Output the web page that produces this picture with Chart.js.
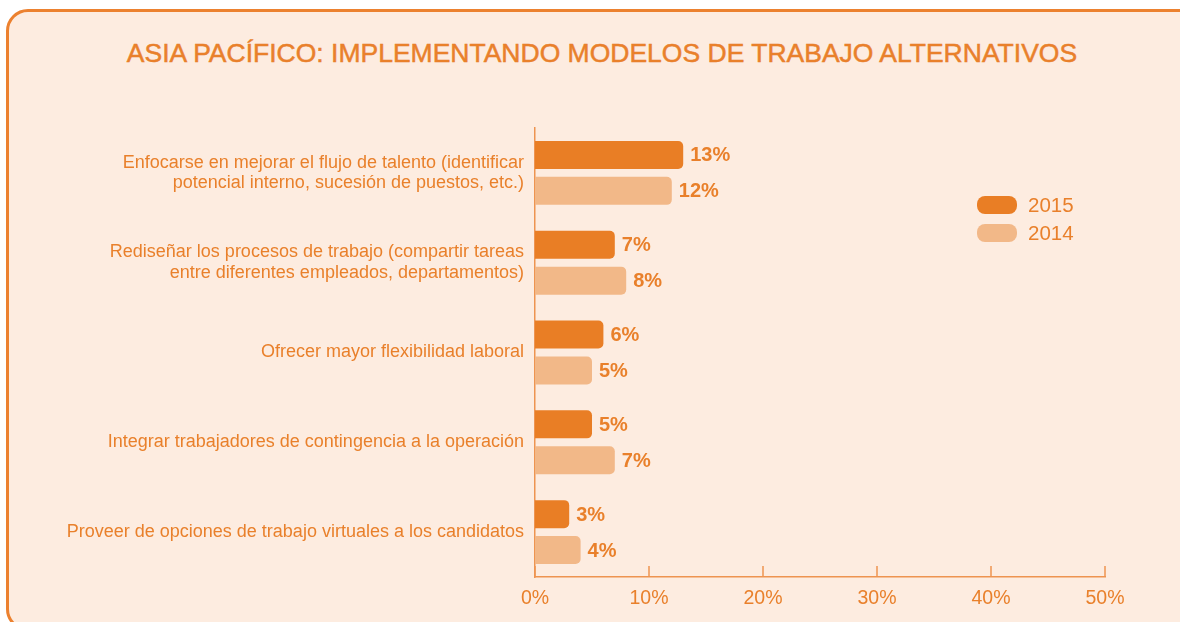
<!DOCTYPE html>
<html>
<head>
<meta charset="utf-8">
<script src="https://cdn.jsdelivr.net/npm/chart.js@4.4.1/dist/chart.umd.min.js"></script>
<style>
  html, body { margin: 0; padding: 0; background: #fff; overflow: hidden; }
  body { width: 1180px; height: 622px; position: relative; }
  .card {
    position: absolute; left: 6px; top: 9px; width: 1210px; height: 622px;
    box-sizing: border-box; border: 3px solid #EC812F; border-radius: 22px;
    background: #FDECE0;
  }
  .title {
    position: absolute; left: 0; width: 1204px; top: 40px; text-align: center;
    font: 26.5px/26px "Liberation Sans", Arial, sans-serif; color: #E9802B; white-space: nowrap;
    -webkit-text-stroke: 0.5px #E9802B;
  }
  #wrap { position: absolute; left: 0; top: 0; width: 1180px; height: 622px; }
</style>
</head>
<body>
<div class="card"></div>
<div class="title">ASIA PACÍFICO: IMPLEMENTANDO MODELOS DE TRABAJO ALTERNATIVOS</div>
<div id="wrap"><canvas id="chart"></canvas></div>
<script>
// data
const categories = [
  ['Enfocarse en mejorar el flujo de talento (identificar', 'potencial interno, sucesión de puestos, etc.)'],
  ['Rediseñar los procesos de trabajo (compartir tareas', 'entre diferentes empleados, departamentos)'],
  'Ofrecer mayor flexibilidad laboral',
  'Integrar trabajadores de contingencia a la operación',
  'Proveer de opciones de trabajo virtuales a los candidatos'
];
const seriesNames = ['2015', '2014'];
const values2015 = [13, 7, 6, 5, 3];
const values2014 = [12, 8, 5, 7, 4];
const xTicks = [0, 10, 20, 30, 40, 50];

const TEXT = '#E9802B';
const AXIS = '#EE9450';
const DARK = '#E97E25';
const LIGHT = '#F2B888';
const FONT = '"Liberation Sans", Arial, sans-serif';

function roundRect(ctx, x, y, w, h, r) {
  ctx.beginPath();
  ctx.moveTo(x + r, y);
  ctx.arcTo(x + w, y, x + w, y + h, r);
  ctx.arcTo(x + w, y + h, x, y + h, r);
  ctx.arcTo(x, y + h, x, y, r);
  ctx.arcTo(x, y, x + w, y, r);
  ctx.closePath();
}

// up-facing ticks, value labels and legend
const decorPlugin = {
  id: 'decor',
  afterDatasetsDraw(chart) {
    const ctx = chart.ctx;
    const xs = chart.scales.x;
    const area = chart.chartArea;
    ctx.save();

    ctx.strokeStyle = AXIS;
    ctx.lineWidth = 1.5;
    xs.ticks.forEach(t => {
      const px = xs.getPixelForValue(t.value);
      ctx.beginPath();
      ctx.moveTo(px, area.bottom);
      ctx.lineTo(px, area.bottom - 11);
      ctx.stroke();
    });

    ctx.font = 'bold 20px ' + FONT;
    ctx.fillStyle = TEXT;
    ctx.textBaseline = 'middle';
    ctx.textAlign = 'left';
    chart.data.datasets.forEach((ds, i) => {
      chart.getDatasetMeta(i).data.forEach((bar, j) => {
        ctx.fillText(ds.data[j] + '%', bar.x + 7, bar.y + 1);
      });
    });

    ctx.font = '20.5px ' + FONT;
    chart.data.datasets.forEach((ds, i) => {
      const y = 196 + i * 28;
      ctx.fillStyle = ds.backgroundColor;
      roundRect(ctx, 977, y, 40, 18, 8);
      ctx.fill();
      ctx.fillStyle = TEXT;
      ctx.fillText(ds.label, 1028, y + 10);
    });
    ctx.restore();
  }
};

new Chart(document.getElementById('chart'), {
  type: 'bar',
  data: {
    labels: categories,
    datasets: [
      { label: seriesNames[0], data: values2015, backgroundColor: DARK },
      { label: seriesNames[1], data: values2014, backgroundColor: LIGHT }
    ]
  },
  options: {
    indexAxis: 'y',
    responsive: true,
    maintainAspectRatio: false,
    animation: false,
    layout: { padding: { top: 128, left: 0, right: 75, bottom: 0 } },
    datasets: {
      bar: {
        categoryPercentage: 0.8,
        barPercentage: 0.78,
        borderRadius: 5,
        borderSkipped: 'start'
      }
    },
    plugins: {
      legend: { display: false },
      tooltip: { enabled: false }
    },
    scales: {
      x: {
        min: 0,
        max: 50,
        afterBuildTicks: s => { s.ticks = xTicks.map(v => ({ value: v })); },
        afterFit: s => { s.height = 45; },
        grid: { display: false, drawTicks: false },
        border: { display: true, color: AXIS, width: 1.5 },
        ticks: {
          padding: 10,
          color: TEXT,
          font: { family: '"Liberation Sans Narrow", "Liberation Sans", Arial, sans-serif', size: 19.5 },
          callback: v => v + '%'
        }
      },
      y: {
        afterFit: s => { s.width = 535; },
        grid: { display: false, drawTicks: false },
        border: { display: true, color: AXIS, width: 1.5 },
        ticks: {
          padding: 11,
          color: TEXT,
          font: { family: FONT, size: 18, lineHeight: 1.13 }
        }
      }
    }
  },
  plugins: [decorPlugin]
});
</script>
</body>
</html>
